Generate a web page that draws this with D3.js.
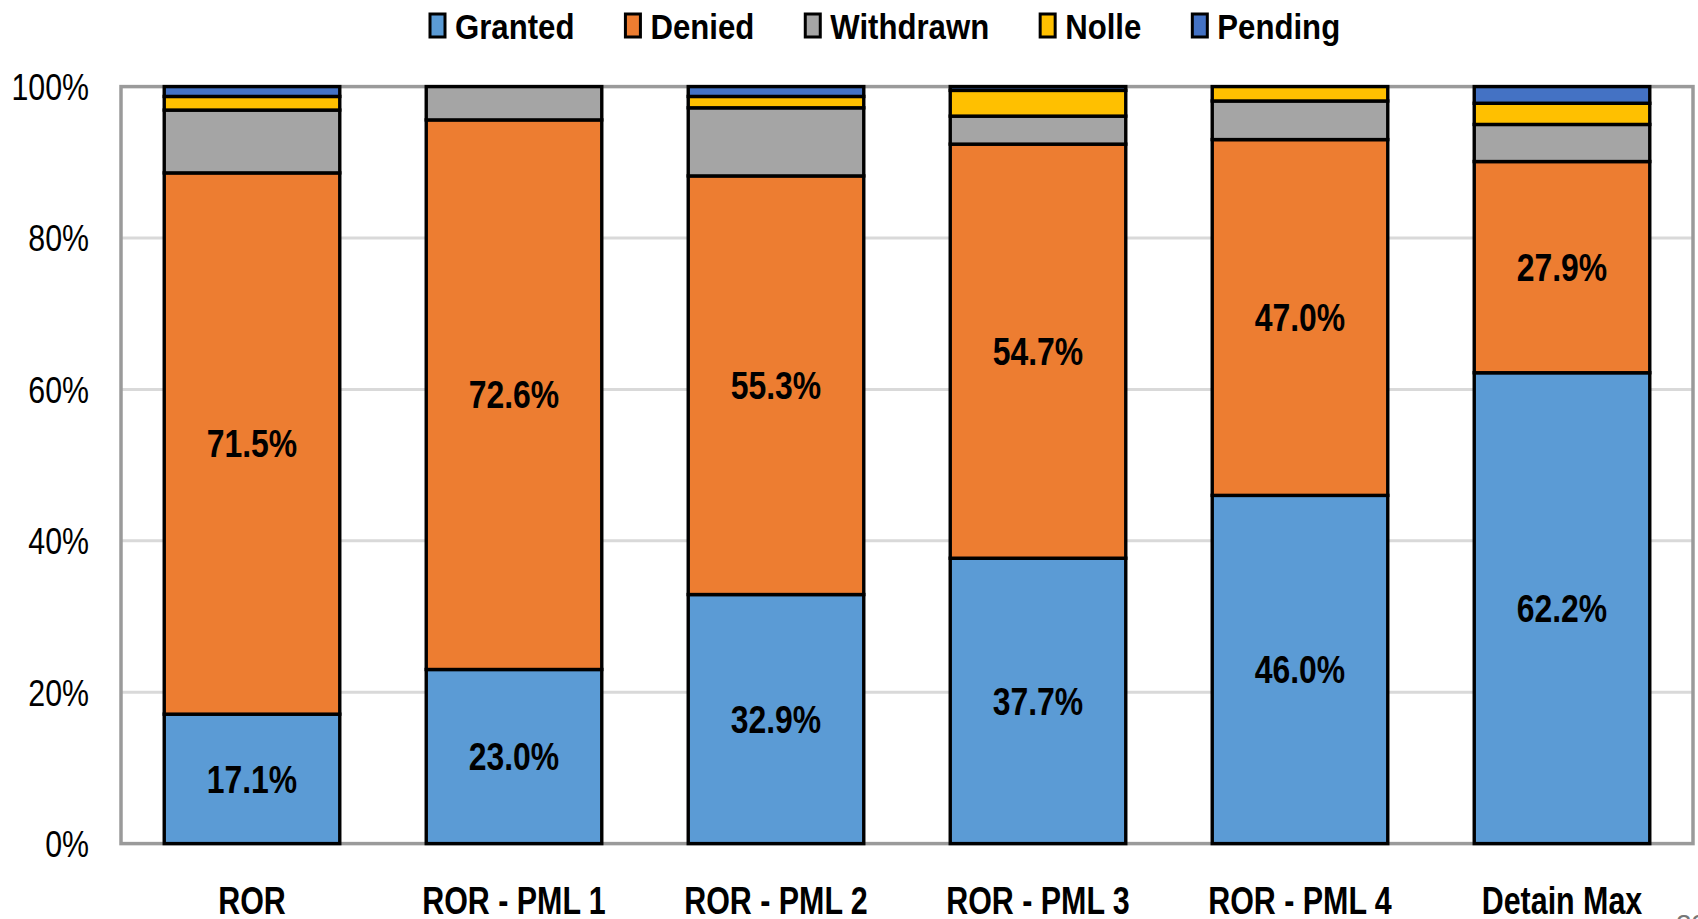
<!DOCTYPE html>
<html>
<head>
<meta charset="utf-8">
<script src="https://cdn.jsdelivr.net/npm/d3@7"></script>
<style>
  html, body { margin: 0; padding: 0; background: #fff; }
  svg { display: block; }
  text { font-family: "Liberation Sans", Arial, sans-serif; }
</style>
</head>
<body>
<svg id="chart" width="1698" height="919"></svg>
<script>
const categories = ["ROR", "ROR - PML 1", "ROR - PML 2", "ROR - PML 3", "ROR - PML 4", "Detain Max"];
const seriesNames = ["Granted", "Denied", "Withdrawn", "Nolle", "Pending"];
const colors = ["#5b9bd5", "#ed7d31", "#a5a5a5", "#ffc000", "#4472c4"];
const granted   = [17.1, 23.0, 32.9, 37.7, 46.0, 62.2];
const denied    = [71.5, 72.6, 55.3, 54.7, 47.0, 27.9];
const withdrawn = [8.3, 4.4, 9.0, 3.7, 5.1, 4.9];
const nolle     = [1.8, 0.0, 1.5, 3.4, 1.9, 2.8];
const pending   = [1.3, 0.0, 1.3, 0.5, 0.0, 2.2];
const yTicks = [0, 20, 40, 60, 80, 100];
const labeledSeries = ["Granted", "Denied"];

const seriesValues = [granted, denied, withdrawn, nolle, pending];
const rows = categories.map((c, i) => {
  const r = { category: c };
  seriesNames.forEach((s, k) => r[s] = seriesValues[k][i]);
  return r;
});

const svg = d3.select("#chart");
const margin = { left: 121, right: 5, top: 86.6, bottom: 75.4 };
const W = 1698, H = 919;

const x = d3.scaleBand().domain(categories).range([margin.left, W - margin.right]).paddingInner(0.33).paddingOuter(0.165);
const y = d3.scaleLinear().domain([0, 100]).range([H - margin.bottom, margin.top]);

function narrowText(sel, px, py, sx) {
  sel.attr("transform", (d, i) => `translate(${px(d, i)},${py(d, i)}) scale(${sx},1)`);
}

// gridlines
svg.append("g").selectAll("line").data(yTicks.filter(t => t > 0 && t < 100)).join("line")
  .attr("x1", margin.left).attr("x2", W - margin.right)
  .attr("y1", d => y(d)).attr("y2", d => y(d))
  .attr("stroke", "#d9d9d9").attr("stroke-width", 3);

// frame
svg.append("rect")
  .attr("x", margin.left).attr("y", y(100))
  .attr("width", W - margin.right - margin.left).attr("height", y(0) - y(100))
  .attr("fill", "none").attr("stroke", "#9a9a9a").attr("stroke-width", 3.5);

// stack
const stack = d3.stack().keys(seriesNames)(rows);

const gBars = svg.append("g");
stack.forEach((layer, k) => {
  gBars.append("g").selectAll("rect").data(layer.filter(d => d[1] - d[0] > 0)).join("rect")
    .attr("x", d => x(d.data.category))
    .attr("width", x.bandwidth())
    .attr("y", d => y(d[1]))
    .attr("height", d => y(d[0]) - y(d[1]))
    .attr("fill", colors[k])
    .attr("stroke", "#000")
    .attr("stroke-width", 3.4);
});

// value labels
stack.forEach((layer, k) => {
  if (!labeledSeries.includes(seriesNames[k])) return;
  svg.append("g").selectAll("text").data(layer).join("text")
    .attr("dy", "0.36em")
    .attr("text-anchor", "middle")
    .attr("font-size", 38)
    .attr("font-weight", "bold")
    .attr("fill", "#000")
    .text(d => (d[1] - d[0]).toFixed(1) + "%")
    .call(narrowText, d => x(d.data.category) + x.bandwidth() / 2, d => (y(d[0]) + y(d[1])) / 2, 0.84);
});

// y axis labels
svg.append("g").selectAll("text").data(yTicks).join("text")
  .attr("text-anchor", "end")
  .attr("dy", "0.36em")
  .attr("font-size", 37)
  .attr("fill", "#000")
  .text(d => d + "%")
  .call(narrowText, () => margin.left - 32, d => y(d), 0.82);

// x axis labels
svg.append("g").selectAll("text").data(categories).join("text")
  .attr("text-anchor", "middle")
  .attr("font-size", 38)
  .attr("font-weight", "bold")
  .attr("fill", "#000")
  .text(d => d)
  .call(narrowText, d => x(d) + x.bandwidth() / 2, () => y(0) + 70, 0.8);

// legend
const LSX = 0.89;
const legend = svg.append("g");
let lx = 0;
const items = [];
seriesNames.forEach((s, k) => {
  const g = legend.append("g");
  g.append("rect").attr("x", 0).attr("y", 14).attr("width", 15).attr("height", 23)
    .attr("fill", colors[k]).attr("stroke", "#000").attr("stroke-width", 3);
  const t = g.append("text").attr("transform", `translate(25,39) scale(${LSX},1)`)
    .attr("font-size", 35).attr("font-weight", "bold").attr("fill", "#000").text(s);
  items.push({ g, w: 25 + t.node().getComputedTextLength() * LSX });
});
items.forEach((it) => {
  it.g.attr("transform", `translate(${lx},0)`);
  lx += it.w + 51;
});
legend.attr("transform", `translate(430,0)`);

// page number (clipped at bottom right)
svg.append("text").attr("x", 1676).attr("y", 934).attr("font-size", 28).attr("fill", "#777").text("23");
</script>
</body>
</html>
